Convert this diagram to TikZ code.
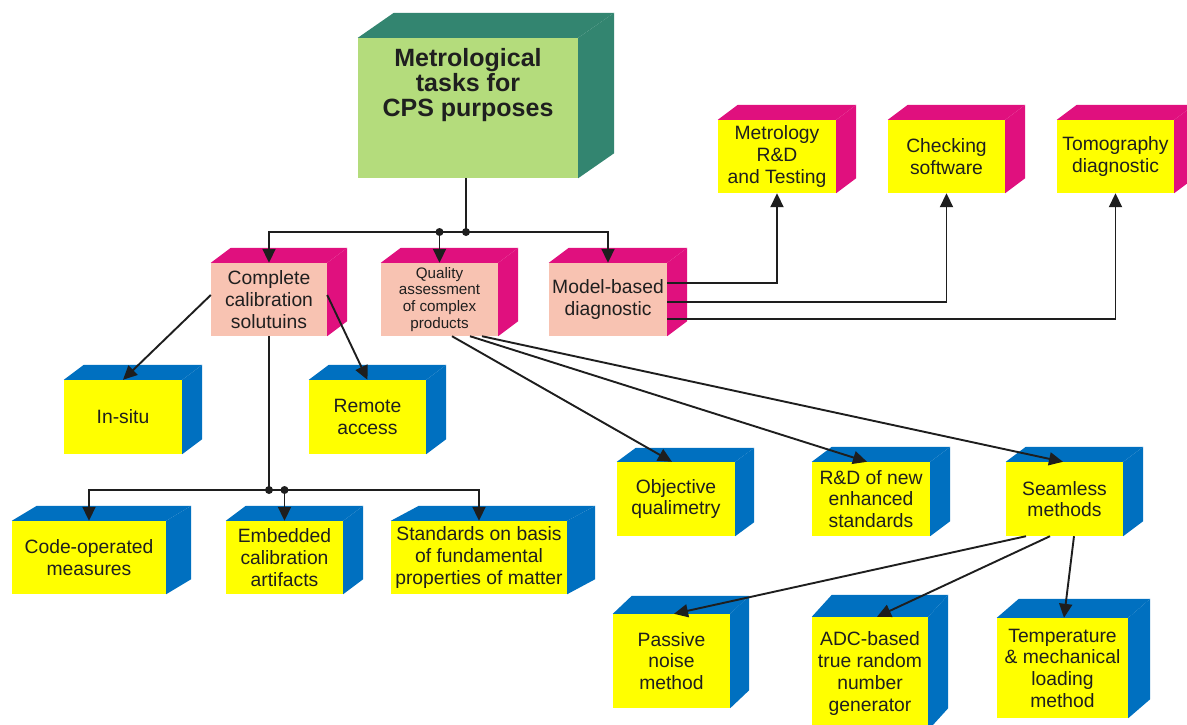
\documentclass[tikz,border=0pt]{standalone}
\usepackage{fontspec}
\setmainfont{Liberation Sans}
\usetikzlibrary{arrows.meta,calc}
\definecolor{cyel}{HTML}{FFFF00}
\definecolor{cblue}{HTML}{0070C0}
\definecolor{cmag}{HTML}{E0107E}
\definecolor{cpink}{HTML}{F8C3B2}
\definecolor{cgreen}{HTML}{B4DC7C}
\definecolor{cteal}{HTML}{338570}
\definecolor{cline}{HTML}{1E1E1E}
\tikzset{
  face/.style={inner sep=0pt, align=center, text=black!88,
    font=\fontsize{19.3}{21.7}\selectfont},
  conn/.style={draw=cline, line width=1.9pt},
  arr/.style={conn, -{Triangle[length=14pt,width=13pt]}},
  jdot/.style={circle, fill=cline, inner sep=0pt, minimum size=8pt}
}
\newcommand\boxsides[4]{%
  \fill[#4] (#1.north west) -- ++(#2,#3) -- ([shift={(#2,#3)}]#1.north east) -- (#1.north east) -- cycle;
  \fill[#4] (#1.north east) -- ++(#2,#3) -- ([shift={(#2,#3)}]#1.south east) -- (#1.south east) -- cycle;}
\begin{document}
\begin{tikzpicture}[x=1pt,y=-1pt]
\useasboundingbox (0,0) rectangle (1187,724);
\clip (0,0) rectangle (1187,724);
\fill[white] (0,0) rectangle (1187,724);

% title
\node[face, fill=cgreen, minimum width=220pt, minimum height=140pt] (title) at (468,108) {};
\boxsides{title}{36}{-25}{cteal}
\node[face, font=\fontsize{25}{25}\bfseries\selectfont] (titlelbl) at (468,85.5) {Metrological\\tasks for\\CPS purposes};

% level 2
\node[face, fill=cpink, minimum width=116pt, minimum height=73pt] (complete) at (269,299.5) {Complete\\calibration\\solutuins};
\boxsides{complete}{20}{-15}{cmag}
\node[face, fill=cpink, minimum width=117pt, minimum height=73pt, font=\fontsize{15.2}{16.9}\selectfont] (quality) at (439.5,299.5) {Quality\\assessment\\of complex\\products};
\boxsides{quality}{20}{-15}{cmag}
\node[face, fill=cpink, minimum width=118pt, minimum height=73pt] (model) at (608,299.5) {Model-based\\diagnostic};
\boxsides{model}{20}{-15}{cmag}

% top right
\node[face, fill=cyel, minimum width=118pt, minimum height=73pt] (metrology) at (777,156.5) {Metrology\\R\&D\\and Testing};
\boxsides{metrology}{20}{-15}{cmag}
\node[face, fill=cyel, minimum width=117pt, minimum height=73pt] (checking) at (946.5,156.5) {Checking\\software};
\boxsides{checking}{20}{-15}{cmag}
\node[face, fill=cyel, minimum width=117pt, minimum height=73pt] (tomo) at (1115.5,156.5) {Tomography\\diagnostic};
\boxsides{tomo}{20}{-15}{cmag}

% calibration branch
\node[face, fill=cyel, minimum width=118pt, minimum height=74pt] (insitu) at (123,417) {In-situ};
\boxsides{insitu}{20}{-15}{cblue}
\node[face, fill=cyel, minimum width=117pt, minimum height=74pt] (remote) at (367.5,417) {Remote\\access};
\boxsides{remote}{20}{-15}{cblue}
\node[face, fill=cyel, minimum width=154pt, minimum height=73pt] (code) at (89,557.5) {Code-operated\\measures};
\boxsides{code}{25}{-15}{cblue}
\node[face, fill=cyel, minimum width=117pt, minimum height=73pt] (embedded) at (284.5,557.5) {Embedded\\calibration\\artifacts};
\boxsides{embedded}{20}{-15}{cblue}
\node[face, fill=cyel, minimum width=176pt, minimum height=73pt] (standards) at (479,557.5) {Standards on basis\\of fundamental\\properties of matter};
\boxsides{standards}{28}{-15}{cblue}

% quality branch
\node[face, fill=cyel, minimum width=118pt, minimum height=74pt] (objective) at (676,499) {Objective\\qualimetry};
\boxsides{objective}{19}{-14}{cblue}
\node[face, fill=cyel, minimum width=118pt, minimum height=74pt] (rnd) at (871,499) {R\&D of new\\enhanced\\standards};
\boxsides{rnd}{20}{-15}{cblue}
\node[face, fill=cyel, minimum width=117pt, minimum height=74pt] (seamless) at (1064.5,499) {Seamless\\methods};
\boxsides{seamless}{20}{-15}{cblue}

% seamless branch
\node[face, fill=cyel, minimum width=117pt, minimum height=94pt] (passive) at (671.5,661) {Passive\\noise\\method};
\boxsides{passive}{19}{-18}{cblue}
\node[face, fill=cyel, minimum width=116pt, minimum height=113pt] (adc) at (870,673.5) {ADC-based\\true random\\number\\generator};
\boxsides{adc}{20}{-22}{cblue}
\node[face, fill=cyel, minimum width=131pt, minimum height=100pt] (temp) at (1062.5,668) {Temperature\\\& mechanical\\loading\\method};
\boxsides{temp}{22}{-19}{cblue}

% connectors: title to level 2
\coordinate (j1) at (466,232);
\coordinate (j2) at (quality.north |- j1);
\draw[conn] (title.south -| j1) -- (j1);
\draw[arr] (j1) -| (complete.north);
\draw[arr] (j2) -- (quality.north);
\draw[arr] (j1) -| (model.north);
\node[jdot] (d1) at (j1) {};
\node[jdot] (d2) at (j2) {};

% model-based to top right
\draw[arr] ([yshift=16.5pt]model.east) -| (metrology.south);
\draw[arr] ([yshift=-2.5pt]model.east) -| (checking.south);
\draw[arr] ([yshift=-19.5pt]model.east) -| (tomo.south);

% complete branch
\draw[arr] ([yshift=4.5pt]complete.west) -- (insitu.north);
\draw[arr] ([yshift=4.5pt]complete.east) -- (remote.north);
\coordinate (j3) at (269,490);
\coordinate (j4) at (embedded.north |- j3);
\draw[conn] (complete.south) -- (j3);
\draw[arr] (j3) -| (code.north);
\draw[arr] (j4) -- (embedded.north);
\draw[arr] (j4) -| (standards.north);
\draw[conn] (j3) -- (j4);
\node[jdot] (d3) at (j3) {};
\node[jdot] (d4) at (j4) {};

% quality branch
\draw[arr] ([xshift=12.5pt]quality.south) -- ([xshift=-4pt]objective.north);
\draw[arr] ([xshift=30.5pt]quality.south) -- ([xshift=-4pt]rnd.north);
\draw[arr] ([xshift=42.5pt]quality.south) -- ([xshift=-1.5pt]seamless.north);

% seamless branch
\draw[arr] ([xshift=-38.5pt]seamless.south) -- ([xshift=2.5pt]passive.north);
\draw[arr] ([xshift=-14.5pt]seamless.south) -- ([xshift=7pt]adc.north);
\draw[arr] ([xshift=9.5pt]seamless.south) -- ([xshift=1.5pt]temp.north);
\end{tikzpicture}
\end{document}
